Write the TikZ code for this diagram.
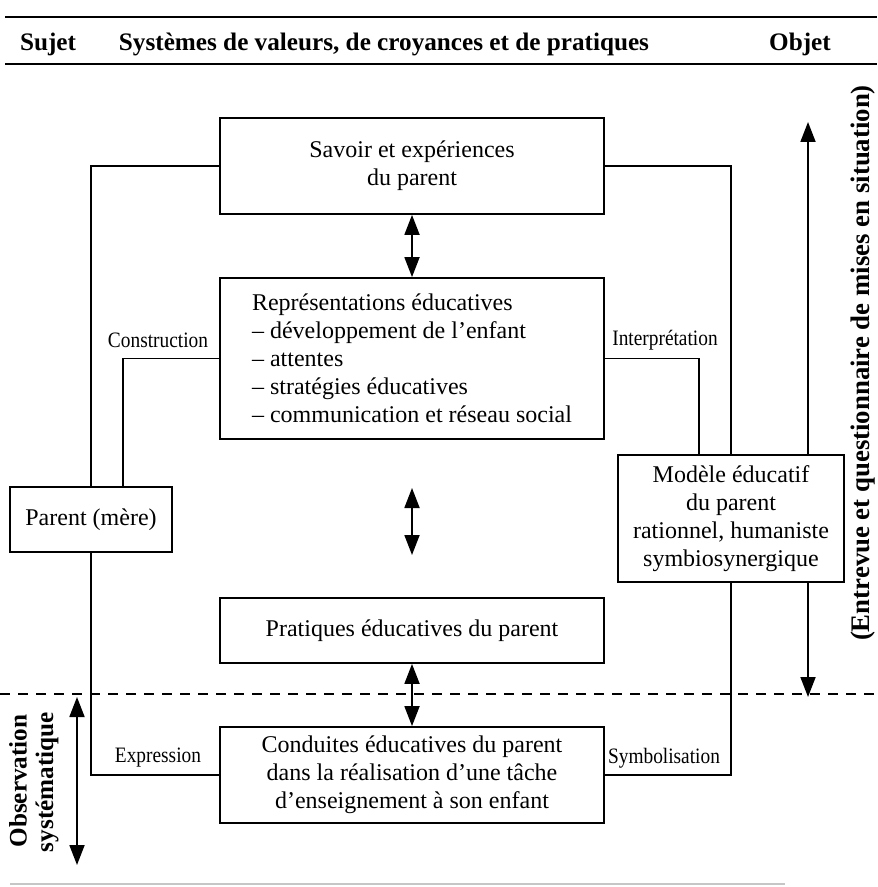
\documentclass[tikz,border=0pt]{standalone}
\usepackage{fontspec}
\setmainfont{Liberation Serif}
\newfontfamily\etroite[FakeStretch=0.88]{Liberation Serif}
\usetikzlibrary{arrows.meta}

\begin{document}
\begin{tikzpicture}[x=0.5pt, y=-0.5pt,
    boite/.style={draw, line width=0.9pt, fill=white, inner sep=0pt, align=center, font=\fontsize{12}{14}\selectfont},
    lien/.style={line width=0.9pt},
    fleche/.style={line width=0.9pt, {Triangle[length=10pt,width=7.5pt]}-{Triangle[length=10pt,width=7.5pt]}},
    etiq/.style={font=\etroite\fontsize{11}{13}\selectfont},
    titre/.style={font=\bfseries\fontsize{12.6}{14}\selectfont}]
    \useasboundingbox (0,0) rectangle (877,887);

    % En-tete
    \draw[line width=1.1pt] (5,17) -- (877,17);
    \draw[line width=1.1pt] (5,64) -- (877,64);
    \draw[line width=1pt, gray!45] (10,884) -- (785,884);
    \node at (48,44) (h1) [titre] {Sujet};
    \node at (384,44) (h2) [titre] {Systèmes de valeurs, de croyances et de pratiques};
    \node at (800,44) (h3) [titre] {Objet};

    % Ligne pointillee et fleches des methodes
    \draw[line width=1pt, dash pattern=on 5pt off 4pt] (0,694) -- (877,694);
    \coordinate (e1) at (808,122);
    \coordinate (e2) at (808,697);
    \coordinate (o1) at (77,697);
    \coordinate (o2) at (77,865);
    \draw[fleche] (e1) -- (e2);
    \draw[fleche] (o1) -- (o2);
    \node at (863,363) (t1) [titre, font=\bfseries\fontsize{13.4}{15}\selectfont, rotate=90] {(Entrevue et questionnaire de mises en situation)};
    \node at (18,781) (t2) [titre, rotate=90] {Observation};
    \node at (47,782) (t3) [titre, rotate=90] {systématique};

    % Boites
    \node at (412,166) (n1) [boite, minimum width=192pt, minimum height=48pt] {Savoir et expériences\\du parent};
    \node at (412,358.5) (n2) [boite, minimum width=192pt, minimum height=80.5pt, align=left] {Représentations éducatives\\– développement de l’enfant\\– attentes\\– stratégies éducatives\\– communication et réseau social};
    \node at (412,630.5) (n3) [boite, minimum width=192pt, minimum height=32.5pt] {Pratiques éducatives du parent};
    \node at (412,775) (n4) [boite, minimum width=192pt, minimum height=48pt] {Conduites éducatives du parent\\dans la réalisation d’une tâche\\d’enseignement à son enfant};
    \node at (91,519.5) (n5) [boite, minimum width=81pt, minimum height=32.5pt] {Parent (mère)};
    \node at (731,518.5) (n6) [boite, minimum width=113pt, minimum height=63.5pt] {Modèle éducatif\\du parent\\rationnel, humaniste\\symbiosynergique};

    % Liens
    \coordinate (p1) at (123,487);
    \coordinate (p2) at (699,455);
    \draw[lien] (n1.west) -| (n5.north);
    \draw[lien] (n2.west) -| (p1);
    \draw[lien] (n5.south) |- (n4.west);
    \draw[lien] (n1.east) -| (n6.north);
    \draw[lien] (n2.east) -| (p2);
    \draw[lien] (n6.south) |- (n4.east);
    \node at (158,340) (l1) [etiq] {Construction};
    \node at (665,340) (l2) [etiq] {Interprétation};
    \node at (158,758) (l3) [etiq] {Expression};
    \node at (664,758) (l4) [etiq] {Symbolisation};

    % Fleches entre les boites
    \coordinate (a1) at (412,488);
    \coordinate (a2) at (412,555);
    \draw[fleche] (n1) -- (n2);
    \draw[fleche] (a1) -- (a2);
    \draw[fleche] (n3) -- (n4);
\end{tikzpicture}
\end{document}
